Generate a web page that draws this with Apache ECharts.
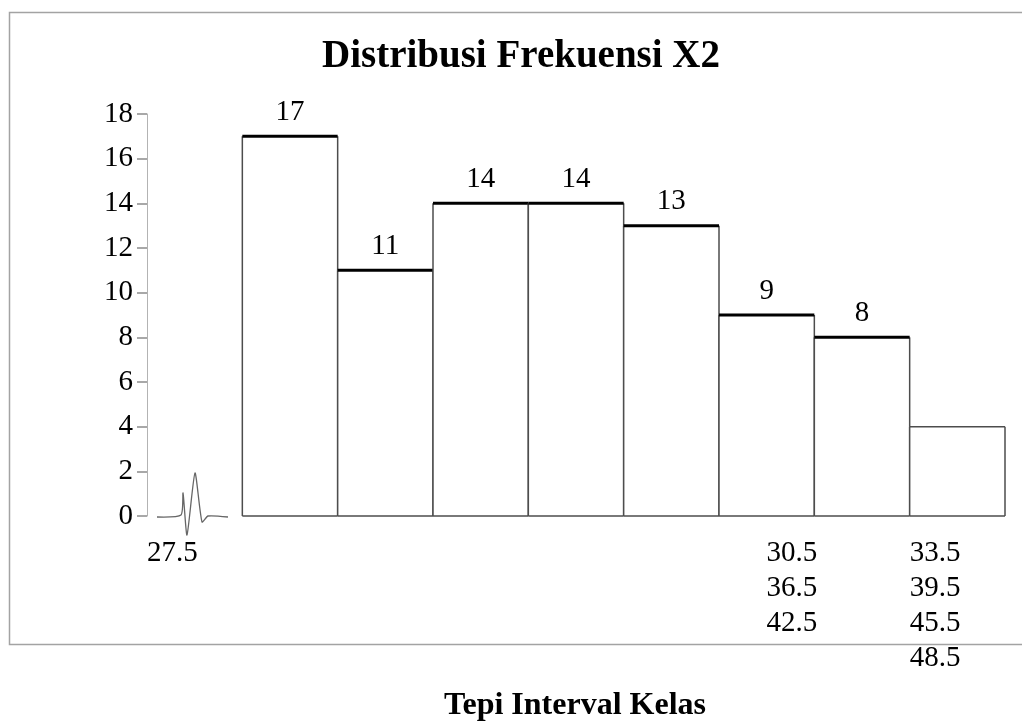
<!DOCTYPE html>
<html>
<head>
<meta charset="utf-8">
<title>Distribusi Frekuensi X2</title>
<script src="https://cdn.jsdelivr.net/npm/echarts@6/dist/echarts.min.js"></script>
<style>
  html, body { margin: 0; padding: 0; background: #fff; }
  #chart { width: 1022px; height: 725px; }
</style>
</head>
<body>
<div id="chart"></div>
<script>
// data
const frequencies = [17, 11, 14, 14, 13, 9, 8, 4];
const tickLabels = ['27.5', '30.5', '33.5', '36.5', '39.5', '42.5', '45.5', '48.5'];
const yTicks = [0, 2, 4, 6, 8, 10, 12, 14, 16, 18];

const serif = '"Liberation Serif", "Times New Roman", serif';

// the x labels in the original are piled up in three stacks
const labelStacks = [
  { at: 0.5, align: 'right', items: [0] },
  { at: 7, align: 'right', items: [1, 3, 5] },
  { at: 8, align: 'left', items: [2, 4, 6, 7] }
];

const chart = echarts.init(document.getElementById('chart'));

chart.setOption({
  backgroundColor: '#fff',
  animation: false,
  grid: { left: 147, right: 17, top: 114, bottom: 209 },
  xAxis: {
    type: 'value',
    min: 0,
    max: 9,
    show: false
  },
  yAxis: {
    type: 'value',
    min: yTicks[0],
    max: yTicks[yTicks.length - 1],
    interval: 2,
    axisLine: { show: true, lineStyle: { color: '#b3b3b3', width: 1 } },
    axisTick: { show: true, length: 10, lineStyle: { color: '#8c8c8c', width: 1.5 } },
    splitLine: { show: false },
    axisLabel: {
      margin: 14,
      color: '#000',
      fontFamily: serif,
      fontSize: 29
    }
  },
  graphic: [
    {
      type: 'rect',
      silent: true,
      shape: { x: 9.5, y: 12.5, width: 1100, height: 632 },
      style: { fill: 'none', stroke: '#a3a3a3', lineWidth: 1.5 }
    },
    {
      type: 'text',
      x: 521,
      y: 57,
      style: {
        text: 'Distribusi Frekuensi X2',
        fill: '#000',
        font: 'bold 39px ' + serif,
        textAlign: 'center',
        textVerticalAlign: 'middle'
      }
    },
    {
      type: 'text',
      x: 575,
      y: 706,
      style: {
        text: 'Tepi Interval Kelas',
        fill: '#000',
        font: 'bold 32px ' + serif,
        textAlign: 'center',
        textVerticalAlign: 'middle'
      }
    }
  ],
  series: [
    {
      // histogram bars, one class width each, starting one width after the axis
      type: 'custom',
      data: frequencies.map((v, i) => [i + 1, v]),
      renderItem: function (params, api) {
        const start = api.value(0);
        const v = api.value(1);
        const bl = api.coord([start, 0]);
        const tr = api.coord([start + 1, v]);
        const last = params.dataIndex === frequencies.length - 1;
        const side = { stroke: '#4d4d4d', lineWidth: 1.5 };
        const children = [
          { type: 'rect', shape: { x: bl[0], y: tr[1], width: tr[0] - bl[0], height: bl[1] - tr[1] }, style: { fill: '#fff' } },
          { type: 'line', shape: { x1: bl[0], y1: bl[1], x2: bl[0], y2: tr[1] }, style: side },
          { type: 'line', shape: { x1: tr[0], y1: bl[1], x2: tr[0], y2: tr[1] }, style: side },
          { type: 'line', shape: { x1: bl[0], y1: bl[1], x2: tr[0], y2: bl[1] }, style: side },
          {
            type: 'line',
            shape: { x1: bl[0], y1: tr[1], x2: tr[0], y2: tr[1] },
            style: last ? side : { stroke: '#000', lineWidth: 3 }
          }
        ];
        if (!last) {
          children.push({
            type: 'text',
            x: (bl[0] + tr[0]) / 2,
            y: tr[1] - 24,
            style: {
              text: String(v),
              fill: '#000',
              font: '29px ' + serif,
              textAlign: 'center',
              textVerticalAlign: 'middle'
            }
          });
        }
        return { type: 'group', children: children };
      }
    },
    {
      // stacked boundary labels under the axis
      type: 'custom',
      silent: true,
      data: labelStacks.map((s, i) => [s.at, 0, i]),
      renderItem: function (params, api) {
        const s = labelStacks[api.value(2)];
        const p = api.coord([api.value(0), api.value(1)]);
        return {
          type: 'text',
          x: p[0] + (s.align === 'right' ? 3 : 0),
          y: p[1] + 20,
          style: {
            text: s.items.map(k => tickLabels[k]).join('\n'),
            fill: '#000',
            font: '29px ' + serif,
            lineHeight: 35,
            textAlign: s.align,
            textVerticalAlign: 'top'
          }
        };
      }
    },
    {
      // axis break mark between 0 and the first class
      type: 'custom',
      silent: true,
      data: [[0, 0]],
      renderItem: function (params, api) {
        const o = api.coord([api.value(0), api.value(1)]);
        const pts = [[10, 1], [34, -1], [36, -23], [40, 19], [48, -43], [55, 6], [61, 0], [81, 1]]
          .map(d => [o[0] + d[0], o[1] + d[1]]);
        return {
          type: 'polyline',
          shape: { points: pts, smooth: 0.2 },
          style: { fill: 'none', stroke: '#666', lineWidth: 1.3 }
        };
      }
    }
  ]
});
</script>
</body>
</html>
